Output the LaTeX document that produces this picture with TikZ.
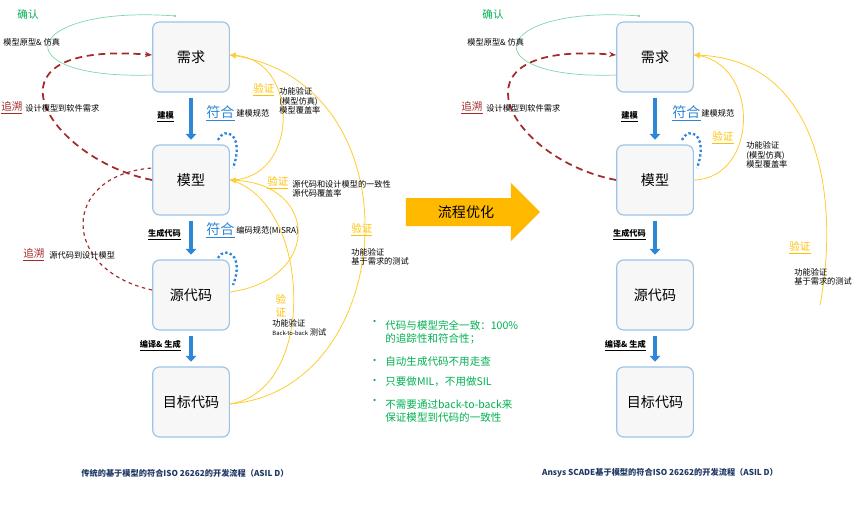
\documentclass[tikz,border=0pt]{standalone}
\usepackage{fontspec}
\setmainfont{Noto Sans CJK SC}
\usetikzlibrary{arrows.meta,shapes.arrows}
\definecolor{bx}{HTML}{9DC3E6}
\definecolor{bl}{HTML}{2E86D6}
\definecolor{yl}{HTML}{FFC000}
\definecolor{rd}{HTML}{A52A2A}
\definecolor{gr}{HTML}{00B050}
\definecolor{nv}{HTML}{1F3864}
\tikzset{
 box/.style={draw=bx,line width=1pt,fill=gray!6,rounded corners=6pt,minimum width=2.3cm,minimum height=2.1cm,font=\large},
 flow/.style={-{Triangle[length=5pt,width=9pt]},bl,line width=3.5pt},
 lab/.style={font=\scriptsize,align=left,anchor=west,inner sep=1pt},
 act/.style={font=\scriptsize\bfseries\itshape,anchor=east},
 fh/.style={bl,font=\large,anchor=west,inner sep=1pt},
 vy/.style={yl,font=\small,anchor=west,inner sep=1pt},
 ry/.style={draw=yl!80,line width=0.7pt},
 rdash/.style={draw=rd,dashed,dash pattern=on 6pt off 4pt,line width=1.5pt},
 dots/.style={draw=bl,dotted,line width=2pt},
 bul/.style={gr,font=\small,anchor=west,align=left,inner sep=1pt},
}
\begin{document}
\begin{tikzpicture}[x=0.03cm,y=-0.03cm]
\useasboundingbox (0,0) rectangle (865,506);
% ---- left
\node[box] (r1) at (191,57) {需求};
\node[box] (m1) at (191,180) {模型};
\node[box] (s1) at (191,295) {源代码};
\node[box] (t1) at (191,402) {目标代码};
\draw[flow] ([yshift=-5]r1.south) -- ([yshift=4]m1.north);
\draw[flow] ([yshift=-5]m1.south) -- ([yshift=4]s1.north);
\draw[flow] ([yshift=-5]s1.south) -- ([yshift=4]t1.north);
\node[act] at (178,117) {\underline{建模}};
\node[act] at (185,235) {\underline{生成代码}};
\node[act] at (185,346) {\underline{编译\& 生成}};
\node[fh] at (205,113) {\underline{符合}};
\node[lab] at (235,113) {建模规范};
\node[fh] at (205,230) {\underline{符合}};
\node[lab] at (235,231) {编码规范(MISRA)};
\draw[dots] (218,140) .. controls (225,125) and (245,135) .. (233,168);
\draw[dots] (218,258) .. controls (225,245) and (245,255) .. (233,285);
% green
\draw[gr!50,line width=0.6pt,-{Circle[length=2pt]}] (r1.west|-0,75) .. controls (0,80) and (20,5) .. (176,16);
\node[gr,font=\small] at (28,14) {确认};
\node[lab] at (2,42) {模型原型\& 仿真};
% red
\draw[rdash,-{Stealth[length=6pt]}] (m1.west) .. controls (50,160) and (-30,40) .. (r1.west|-0,55);
\node[rd,font=\small,anchor=west,inner sep=1pt] at (0,108) {\underline{追溯}};
\node[lab] at (24,108) {设计模型到软件需求};
\draw[rd,dashed,line width=1pt] (s1.west|-0,290) .. controls (60,270) and (60,175) .. (m1.west|-0,168);
\node[rd,font=\small,anchor=west,inner sep=1pt] at (22,255) {\underline{追溯}};
\node[lab] at (48,255) {源代码到设计模型};
% yellow
\draw[ry,-{Triangle[length=5pt,width=5pt]}] (m1.east) .. controls (300,180) and (300,60) .. (r1.east|-0,55);
\draw[ry,-{Triangle[length=5pt,width=5pt]}] (s1.east|-0,292) .. controls (320,280) and (320,185) .. (m1.east);
\draw[ry] (t1.east|-0,404) .. controls (320,390) and (310,200) .. (m1.east);
\draw[ry] (t1.east|-0,404) .. controls (400,390) and (420,80) .. (r1.east|-0,55);
\node[vy] at (252,90) {\underline{验证}};
\node[lab] at (278,101) {功能验证\\(模型仿真)\\模型覆盖率};
\node[vy] at (266,183) {\underline{验证}};
\node[lab] at (291,189) {源代码和设计模型的一致性\\源代码覆盖率};
\node[yl,font=\small,align=center] at (281,306) {验\\证};
\node[lab] at (271,328) {功能验证\\{\tiny Back-to-back} 测试};
\node[vy] at (350,230) {\underline{验证}};
\node[lab] at (350,257) {功能验证\\基于需求的测试};
% middle
\node[single arrow,fill=yl!90!orange,draw=yl!80!orange,minimum height=4cm,minimum width=1.7cm,single arrow head extend=0.25cm,font=\large,inner sep=1pt] (opt) at (466,212) {流程优化};
\node[bul] (b1) at (368,323) {•};
\node[bul] (t1a) at (384,332) {代码与模型完全一致：100\%\\的追踪性和符合性；};
\node[bul] (b2) at (368,362) {•};
\node[bul] (t2a) at (384,362) {自动生成代码不用走查};
\node[bul] (b3) at (368,382) {•};
\node[bul] (t3a) at (384,382) {只要做MIL，不用做SIL};
\node[bul] (b4) at (368,402) {•};
\node[bul] (t4a) at (384,411) {不需要通过back-to-back来\\保证模型到代码的一致性};
% ---- right
\node[box] (r2) at (655,57) {需求};
\node[box] (m2) at (655,180) {模型};
\node[box] (s2) at (655,295) {源代码};
\node[box] (t2) at (655,402) {目标代码};
\draw[flow] ([yshift=-5]r2.south) -- ([yshift=4]m2.north);
\draw[flow] ([yshift=-5]m2.south) -- ([yshift=4]s2.north);
\draw[flow] ([yshift=-5]s2.south) -- ([yshift=4]t2.north);
\node[act] at (642,117) {\underline{建模}};
\node[act] at (650,235) {\underline{生成代码}};
\node[act] at (650,346) {\underline{编译\& 生成}};
\node[fh] at (671,113) {\underline{符合}};
\node[lab] at (700,113) {建模规范};
\draw[dots] (682,140) .. controls (689,125) and (709,135) .. (697,168);
\draw[gr!50,line width=0.6pt,-{Circle[length=2pt]}] (r2.west|-0,75) .. controls (470,80) and (490,5) .. (640,16);
\node[gr,font=\small] at (493,14) {确认};
\node[lab] at (466,42) {模型原型\& 仿真};
\draw[rdash,-{Stealth[length=6pt]}] (m2.west) .. controls (510,160) and (440,40) .. (r2.west|-0,55);
\node[rd,font=\small,anchor=west,inner sep=1pt] at (460,108) {\underline{追溯}};
\node[lab] at (485,108) {设计模型到软件需求};
\draw[ry] (m2.east) .. controls (760,178) and (760,60) .. (r2.east|-0,55);
\draw[ry,-{Triangle[length=5pt,width=5pt]}] (820,305) .. controls (840,200) and (820,60) .. (r2.east|-0,55);
\node[vy] at (711,138) {\underline{验证}};
\node[lab] at (745,155) {功能验证\\(模型仿真)\\模型覆盖率};
\node[vy] at (788,248) {\underline{验证}};
\node[lab] at (793,277) {功能验证\\基于需求的测试};
% captions
\node[nv,font=\scriptsize\bfseries] at (185,473) {传统的基于模型的符合ISO 26262的开发流程（ASIL D）};
\node[nv,font=\scriptsize\bfseries] at (660,473) {Ansys SCADE基于模型的符合ISO 26262的开发流程（ASIL D）};
\end{tikzpicture}
\end{document}
